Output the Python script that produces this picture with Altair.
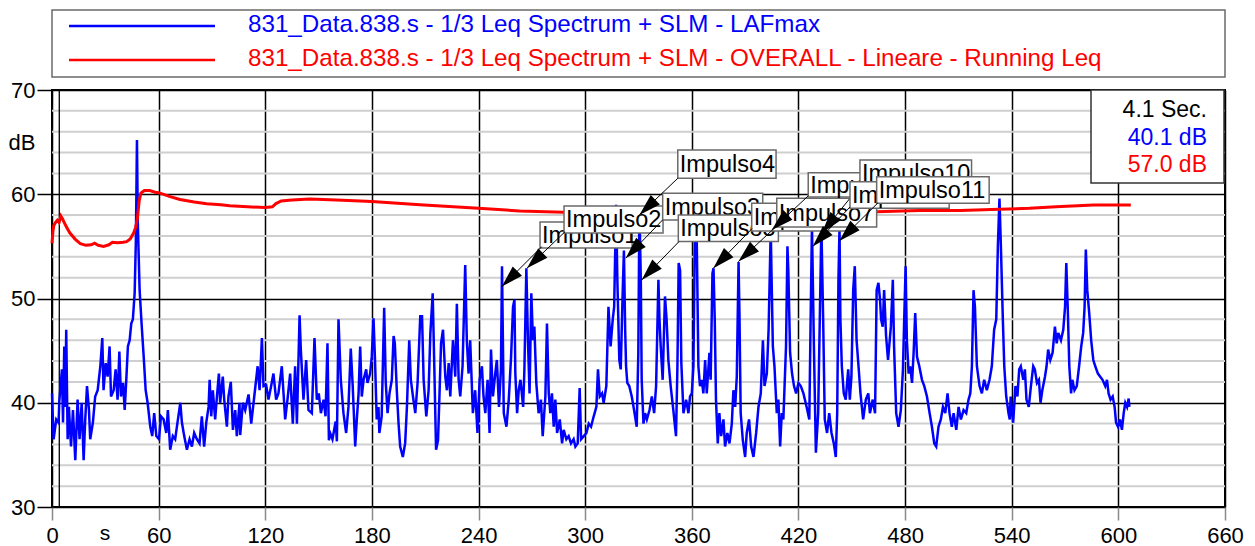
import math
import altair as alt
import pandas as pd

# ---------------- data ----------------
# LAFmax (blue), time [s] -> dB
laf_samples = [
    (0.0, 40.9), (0.9, 36.5), (2.4, 38.4), (3.7, 38.1), (4.1, 40.1), (5.6, 43.2), (6.2, 38.1), (6.9, 45.4),
    (7.5, 39.6), (8.0, 47.0), (8.8, 36.5), (9.5, 39.6), (10.7, 35.8), (11.8, 39.3), (13.1, 34.5), (14.4, 40.3),
    (15.5, 36.5), (16.7, 40.0), (17.8, 34.5), (18.7, 38.4), (19.7, 41.6), (20.8, 39.3), (21.5, 36.5), (23.0, 38.1),
    (24.3, 40.6), (25.7, 41.2), (27.2, 43.5), (28.3, 46.2), (29.0, 41.2), (30.2, 43.8), (31.3, 42.5), (32.4, 45.4),
    (33.2, 40.6), (34.7, 41.2), (35.8, 43.2), (36.9, 40.3), (37.9, 44.9), (38.8, 40.6), (40.0, 41.9), (40.9, 39.3),
    (41.8, 42.2), (42.7, 45.4), (43.7, 46.0), (44.6, 47.6), (45.5, 48.0), (46.5, 50.5), (47.2, 55.6), (47.8, 65.2),
    (48.3, 57.2), (49.3, 50.8), (50.4, 47.6), (51.6, 44.4), (52.7, 41.2), (53.8, 40.0), (55.3, 37.7), (56.4, 36.8),
    (57.5, 39.0), (58.7, 36.8), (60.2, 36.5), (61.3, 38.7), (62.8, 38.4), (64.3, 37.1), (65.2, 39.3), (66.5, 35.5),
    (68.0, 36.8), (69.3, 36.5), (70.6, 38.1), (72.2, 40.0), (73.1, 38.1), (74.4, 36.8), (75.9, 35.5), (77.4, 36.5),
    (78.7, 35.8), (80.0, 37.1), (81.5, 36.5), (83.0, 36.1), (84.3, 38.7), (85.6, 35.8), (86.8, 38.1), (88.1, 39.6),
    (88.7, 42.2), (89.6, 38.7), (90.5, 41.2), (91.8, 38.4), (92.8, 40.6), (93.9, 42.8), (94.6, 40.0), (96.1, 42.5),
    (96.9, 40.3), (98.4, 37.7), (99.3, 40.6), (100.6, 42.0), (101.8, 37.4), (103.1, 39.3), (104.0, 36.8), (105.5, 40.0),
    (105.9, 36.9), (107.4, 40.0), (108.7, 39.3), (110.6, 40.8), (112.1, 38.0), (113.8, 40.6), (115.7, 43.5), (116.8, 41.2),
    (118.1, 46.2), (119.0, 41.6), (120.5, 41.7), (121.8, 40.3), (123.3, 41.6), (124.6, 42.8), (126.1, 40.3), (127.4, 40.9),
    (129.3, 43.5), (131.2, 38.4), (132.5, 40.3), (134.0, 42.8), (135.5, 38.0), (136.8, 43.5), (137.8, 38.0), (139.3, 48.4),
    (140.0, 45.1), (141.5, 40.3), (143.0, 44.1), (144.3, 39.3), (146.2, 39.0), (147.7, 46.2), (149.0, 40.3), (150.1, 40.9),
    (151.3, 39.0), (152.8, 40.3), (153.9, 38.7), (155.0, 45.7), (155.8, 36.4),
    (156.5, 37.1), (157.8, 36.5), (159.6, 38.2), (160.3, 36.3), (161.2, 48.0), (162.5, 42.2), (164.0, 39.0), (165.5, 37.1),
    (166.8, 39.6), (168.1, 45.2), (169.2, 41.6), (170.6, 35.8), (171.5, 38.4), (172.5, 40.9), (173.4, 45.4), (174.3, 40.6),
    (175.3, 42.2), (176.8, 43.2), (177.5, 41.9), (179.0, 42.8), (179.9, 44.4), (180.9, 48.1), (181.8, 43.8), (182.7, 38.4),
    (183.7, 39.6), (184.2, 37.1), (185.5, 38.7), (186.9, 49.1), (187.8, 41.9), (188.8, 39.0), (189.9, 40.9), (191.2, 42.2),
    (192.2, 46.4), (192.9, 45.7), (194.0, 41.2), (195.0, 38.0), (195.9, 35.8), (197.4, 34.8), (198.7, 36.1), (199.7, 39.6),
    (201.0, 46.0), (201.9, 42.2), (203.1, 40.6), (204.4, 39.0), (205.7, 41.9), (207.2, 48.3), (208.2, 48.3), (209.1, 42.2),
    (210.6, 38.7), (211.9, 41.2), (212.9, 46.7), (214.2, 50.5), (215.1, 43.5), (216.1, 35.5), (217.2, 36.4), (218.1, 41.2),
    (218.9, 45.7), (220.0, 47.0), (221.3, 42.5), (222.2, 41.2), (223.2, 43.8), (224.1, 40.6), (225.6, 46.0), (226.9, 42.5),
    (227.8, 49.5), (228.8, 42.2), (229.7, 40.6), (231.0, 43.5), (232.5, 53.2), (233.4, 46.0), (234.4, 42.8), (235.3, 46.0),
    (236.8, 39.0), (238.1, 41.2), (239.4, 37.1), (240.6, 42.2), (241.9, 43.5), (242.8, 40.6), (243.8, 39.0), (245.1, 42.2),
    (246.2, 37.1), (247.0, 45.1), (248.1, 40.6), (249.4, 42.8), (250.3, 44.1), (251.5, 39.6), (252.6, 43.2), (253.2, 53.1),
    (254.2, 39.0), (255.7, 37.7), (257.0, 40.3), (258.3, 44.4), (259.4, 49.2), (260.2, 49.9), (260.7, 42.8), (261.7, 39.0),
    (262.6, 41.2), (263.6, 42.2), (265.1, 39.6), (265.8, 43.2), (266.9, 52.9), (267.8, 46.0), (268.7, 40.9), (269.7, 50.5),
    (270.6, 46.0), (271.4, 47.3), (272.5, 41.9), (273.8, 39.0), (275.1, 40.3), (276.1, 36.8), (277.6, 40.6), (278.5, 47.6),
    (279.5, 40.9), (280.4, 39.0), (281.3, 40.9), (282.3, 37.7), (283.2, 40.3), (284.2, 37.1), (285.7, 38.4), (287.0, 36.1),
    (287.9, 37.4), (289.4, 36.5), (290.7, 36.8), (292.0, 36.1), (293.5, 36.5), (294.5, 35.8), (295.8, 36.1), (296.9, 41.4),
    (297.7, 36.5), (299.2, 36.8), (300.7, 37.1), (302.0, 38.0), (303.3, 37.7), (304.8, 38.7), (306.3, 39.6), (307.2, 43.2),
    (308.2, 40.6), (309.5, 40.9), (310.4, 40.0), (311.9, 41.6),
    (313.1, 49.2), (314.3, 45.4), (315.5, 48.0), (316.3, 49.2), (317.4, 59.0), (318.1, 51.8), (319.2, 44.1), (320.0, 43.2),
    (321.0, 50.0), (321.8, 54.6), (322.5, 47.0), (323.0, 43.5), (323.7, 41.9), (324.8, 41.6), (326.2, 40.6), (327.5, 39.3),
    (329.0, 37.7), (329.9, 44.8), (330.5, 58.8), (331.3, 51.8), (331.8, 42.2), (332.8, 38.0), (333.7, 39.0), (334.7, 38.4),
    (336.2, 39.3), (337.5, 40.6), (338.8, 39.0), (339.9, 41.6), (341.2, 51.8), (341.8, 48.0), (342.5, 45.4), (343.6, 42.2),
    (344.9, 50.2), (345.8, 48.0), (346.8, 44.1), (348.1, 41.6), (349.6, 39.3), (351.1, 36.8), (351.9, 43.5), (352.6, 53.4),
    (353.4, 52.7), (354.1, 43.8), (355.3, 39.0), (356.8, 40.3), (358.1, 39.0), (359.0, 40.6), (360.0, 40.9), (360.9, 43.5),
    (361.8, 57.5), (362.8, 55.3), (363.7, 43.5), (364.6, 41.6), (365.6, 42.2), (366.5, 40.9), (367.5, 44.1), (368.4, 40.9),
    (369.9, 44.8), (370.6, 42.2), (371.6, 52.4), (372.2, 52.9), (372.9, 48.0), (373.6, 40.3), (374.6, 36.1), (375.5, 39.0),
    (376.5, 36.8), (377.8, 38.4), (378.7, 35.8), (380.0, 37.1), (381.2, 36.1), (382.5, 38.0), (383.4, 41.2), (384.4, 39.6),
    (385.3, 42.5), (386.3, 53.5), (386.8, 48.6), (387.5, 39.0), (388.7, 36.4), (390.0, 34.8), (390.9, 37.1), (392.2, 38.4),
    (393.4, 35.8), (394.7, 34.8), (396.2, 37.1), (397.5, 39.6), (398.8, 40.9), (400.0, 46.0), (400.9, 41.6), (402.2, 42.8),
    (403.2, 47.0), (404.4, 56.6), (404.9, 51.8), (405.6, 45.4), (406.5, 43.5), (407.8, 39.0), (408.7, 40.3), (409.7, 35.8),
    (410.6, 39.0), (411.5, 38.4), (413.0, 45.4), (413.8, 55.0), (414.3, 52.7), (415.3, 44.8), (416.4, 42.8), (417.5, 41.6),
    (418.7, 40.9), (420.0, 41.9), (421.3, 41.6), (422.8, 40.9), (424.6, 39.6), (426.1, 38.4), (426.9, 48.6), (427.6, 56.9),
    (428.7, 45.4), (429.8, 35.2), (431.1, 39.0), (432.0, 48.0), (432.9, 57.0), (433.9, 48.0), (434.8, 38.4), (436.1, 37.1),
    (437.3, 39.0), (438.6, 37.1), (439.9, 36.1), (441.0, 34.8), (441.8, 39.0), (442.5, 51.8), (443.1, 56.8), (443.6, 48.0),
    (444.4, 43.5), (445.5, 40.9), (446.6, 40.3), (448.0, 43.2), (448.9, 40.3), (449.8, 42.5), (450.8, 50.8), (451.7, 53.1),
    (452.7, 46.0), (453.8, 43.5), (454.9, 40.9), (456.4, 38.4), (457.9, 40.3), (459.3, 40.9), (460.2, 39.0),
    (461.8, 40.3), (463.1, 39.0), (464.0, 50.8), (465.0, 51.5), (465.9, 49.9), (466.5, 48.0), (467.4, 47.3), (468.2, 50.8),
    (469.3, 46.4), (470.4, 44.1), (472.0, 47.3), (473.1, 51.8), (473.8, 45.4), (475.0, 39.0), (476.3, 37.7), (477.6, 39.3),
    (478.8, 43.2), (479.5, 48.0), (480.3, 53.1), (481.0, 46.0), (482.0, 42.8), (482.9, 43.5), (483.9, 41.9), (484.8, 44.8),
    (485.7, 48.6), (486.7, 44.4), (488.0, 43.5), (489.5, 42.2), (490.8, 41.6), (492.3, 40.6), (493.8, 39.0), (495.1, 37.7),
    (496.4, 36.1), (497.5, 35.8), (498.8, 37.7), (500.1, 38.4), (501.3, 39.6), (502.6, 39.0), (503.9, 40.9), (505.0, 39.0),
    (506.3, 37.7), (507.3, 39.0), (508.8, 37.4), (510.1, 39.6), (511.4, 38.4), (512.9, 39.3), (514.4, 39.0), (515.7, 40.3),
    (516.7, 40.9), (517.6, 43.5), (518.5, 50.8), (519.3, 49.2), (520.4, 43.5), (521.9, 41.6), (523.2, 40.9), (524.5, 42.2),
    (526.0, 41.2), (527.5, 42.2), (528.8, 43.5), (530.1, 47.0), (531.3, 48.0), (532.2, 55.0), (533.1, 59.6), (533.9, 55.0),
    (535.0, 48.0), (535.8, 43.5), (536.9, 40.6), (538.2, 39.0), (538.9, 38.4), (539.4, 40.6), (540.8, 38.1), (542.1, 41.6),
    (543.2, 40.6), (544.2, 43.2),
    (545.1, 43.5), (546.5, 42.2), (547.4, 43.2), (548.3, 40.3), (549.6, 39.6), (550.8, 41.6), (552.1, 43.5), (553.0, 43.2),
    (554.2, 41.9), (555.3, 42.2), (556.2, 40.0), (557.2, 41.2), (558.7, 42.5), (559.6, 43.5), (560.5, 45.1), (561.7, 44.1),
    (563.0, 44.8), (564.3, 47.3), (565.3, 45.7), (566.2, 46.7), (567.7, 46.0), (569.0, 47.0), (570.0, 49.2), (570.7, 53.4),
    (571.5, 49.2), (572.4, 43.5), (573.4, 40.9), (574.1, 42.2), (575.3, 41.2), (576.6, 41.6), (577.9, 43.5), (579.1, 45.4),
    (580.2, 46.7), (581.0, 49.2), (581.7, 54.7), (582.5, 50.8), (583.6, 48.6), (584.7, 46.0), (585.9, 44.1), (587.0, 43.5),
    (588.5, 42.8), (589.8, 42.5), (591.1, 42.2), (592.6, 41.6), (593.6, 42.2), (594.5, 40.9), (595.6, 40.3), (596.8, 40.6),
    (597.9, 39.6), (598.7, 38.1), (599.8, 37.7), (600.9, 38.4), (602.0, 37.4), (603.0, 39.0), (603.9, 40.0), (604.9, 39.6),
    (605.8, 40.4), (606.2, 39.6),
]
laf_t = [p[0] for p in laf_samples]
laf_db = [p[1] for p in laf_samples]

# OVERALL running Leq (red)
leq_t = [0, 0.5, 1, 2, 3, 4, 5, 6, 8, 10, 13, 16, 19, 22, 24, 26, 29, 32, 34, 37, 40, 42, 44, 46, 47, 48, 49, 50,
         52, 55, 58, 60, 66, 72, 80, 87, 95, 100, 110, 120, 124, 126, 129, 135, 145, 160, 180, 207, 240, 263, 288,
         300, 330, 360, 400, 440, 464, 488, 511, 533, 550, 565, 586, 600, 607]
leq_db = [55.3, 56.4, 57.0, 57.3, 57.5, 57.3, 57.9, 57.6, 56.9, 56.3, 55.7, 55.25, 55.1, 55.15, 55.3, 55.1, 55.0,
          55.15, 55.4, 55.35, 55.4, 55.45, 55.7, 56.3, 56.8, 57.6, 59.3, 60.1, 60.35, 60.35, 60.2, 60.15, 59.8,
          59.5, 59.25, 59.1, 59.0, 58.9, 58.8, 58.72, 58.8, 59.1, 59.35, 59.45, 59.55, 59.45, 59.3, 59.0, 58.65,
          58.4, 58.27, 58.2, 58.15, 58.2, 58.2, 58.25, 58.33, 58.45, 58.45, 58.55, 58.65, 58.8, 58.96, 58.96, 58.96]

series_names = ["831_Data.838.s - 1/3 Leq Spectrum + SLM - LAFmax",
                "831_Data.838.s - 1/3 Leq Spectrum + SLM - OVERALL - Lineare - Running Leq"]
series_colors = ["#0000ff", "#ff0000"]

x_ticks = [0, 60, 120, 180, 240, 300, 360, 420, 480, 540, 600, 660]
y_ticks = [30, 40, 50, 60, 70]
minor_db = [32, 34, 36, 38, 42, 44, 46, 48, 52, 54, 56, 58, 62, 64, 66, 68]
x_title, y_title = "s", "dB"

cursor_t = [4.1]
cursor_lines = ["4.1 Sec.", "40.1 dB", "57.0 dB"]

# annotations (drawing order), box edges and arrow ends in data units
ann_label = ["Impulso1", "Impulso2", "Impulso3", "Impulso4", "Impulso5", "Impulso6",
             "Impulso7", "Impulso8", "Impulso10", "Impulso9", "Impulso11"]
ann_t0 = [274.6, 288.1, 343.6, 352.1, 352.4, 393.7, 407.8, 425.5, 454.6, 449.0, 464.0]
ann_t1 = [326.4, 343.8, 399.9, 407.4, 408.7, 449.4, 464.0, 481.3, 517.4, 504.8, 527.3]
ann_top = [57.34, 58.88, 60.10, 64.25, 58.02, 59.14, 59.62, 62.07, 63.29, 61.21, 61.69]
ann_bot = [54.85, 56.29, 57.54, 61.53, 55.46, 56.48, 56.86, 59.74, 60.73, 58.66, 59.14]
ann_from_t = [275.6, 288.7, 343.6, 352.1, 352.8, 393.9, 407.8, 425.5, 454.6, 449.0, 464.7]
ann_from_v = [54.98, 56.41, 57.54, 61.53, 55.46, 56.70, 56.96, 59.84, 60.80, 58.78, 59.17]
ann_to_t = [253.1, 267.2, 322.8, 330.5, 331.8, 372.1, 386.2, 405.0, 433.1, 428.0, 443.0]
ann_to_v = [51.14, 52.90, 53.86, 58.02, 51.78, 52.90, 53.54, 56.58, 56.26, 54.98, 55.52]

# ---------------- chart ----------------
W, H = 1173, 417
FONT = "Liberation Sans"
X_DOM, Y_DOM = [0, 660], [30, 70]

xs = alt.Scale(domain=X_DOM, nice=False, zero=False)
ys = alt.Scale(domain=Y_DOM, nice=False, zero=False)

x_axis = alt.Axis(values=x_ticks, grid=True, gridColor="black", gridWidth=1.5, domain=False,
                  ticks=True, tickColor="#8a8a8a", tickWidth=1.5, tickSize=13, labelPadding=5,
                  labelFont=FONT, labelFontSize=22, labelColor="black", labelFlush=False, title=None)
y_axis = alt.Axis(values=y_ticks, grid=True, gridColor="black", gridWidth=1.5, domain=False,
                  ticks=True, tickColor="black", tickWidth=1.5, tickSize=15, labelPadding=2,
                  labelFont=FONT, labelFontSize=22, labelColor="black", labelFlush=False, title=None)


def X(f):
    return alt.X(f, type="quantitative", scale=xs, axis=x_axis)


def Y(f):
    return alt.Y(f, type="quantitative", scale=ys, axis=y_axis)


laf = pd.DataFrame({"t": laf_t, "db": laf_db})
leq = pd.DataFrame({"t": leq_t, "db": leq_db})

minor = alt.Chart(pd.DataFrame({"db": minor_db})).mark_rule(
    color="#cfcfcf", strokeWidth=2).encode(y=Y("db"))

cursor = alt.Chart(pd.DataFrame({"t": cursor_t})).mark_rule(
    color="black", strokeWidth=1.3).encode(x=X("t"))

blue = alt.Chart(laf).mark_line(color=series_colors[0], strokeWidth=2.5).encode(
    x=X("t"), y=Y("db"))
red = alt.Chart(leq).mark_line(color=series_colors[1], strokeWidth=3).encode(
    x=X("t"), y=Y("db"))

layers = [minor, cursor, blue, red]

# axis unit titles placed like the reference
layers.append(alt.Chart(pd.DataFrame({"txt": [x_title]})).mark_text(
    align="center", baseline="middle", font=FONT, fontSize=21, color="black").encode(
    x=alt.value(53), y=alt.value(H + 27), text="txt:N"))
layers.append(alt.Chart(pd.DataFrame({"txt": [y_title]})).mark_text(
    align="center", baseline="alphabetic", font=FONT, fontSize=22, color="black").encode(
    x=alt.value(-30), y=alt.value(60), text="txt:N"))

# annotations
sx, sy = W / (X_DOM[1] - X_DOM[0]), H / (Y_DOM[1] - Y_DOM[0])
ann = pd.DataFrame({"label": ann_label, "t0": ann_t0, "t1": ann_t1, "top": ann_top, "bot": ann_bot,
                    "ft": ann_from_t, "fv": ann_from_v, "tt": ann_to_t, "tv": ann_to_v})
ann["ymid"] = (ann["top"] + ann["bot"]) / 2
ann["ang"] = [
    math.degrees(math.atan2((r.tt - r.ft) * sx, (r.tv - r.fv) * sy)) % 360
    for r in ann.itertuples()
]
arrow_shape = "M0,0L-0.3,1L0.3,1Z"

base_ann = alt.Chart(ann)
for lab in ann_label:
    f = alt.datum.label == lab
    layers.append(base_ann.transform_filter(f).mark_rect(
        fill="white", stroke="#6a6a6a", strokeWidth=1.5).encode(
        x=X("t0"), x2="t1", y=Y("top"), y2="bot"))
    layers.append(base_ann.transform_filter(f).mark_text(
        align="left", baseline="middle", dx=2, dy=1, font=FONT, fontSize=23.5, color="black").encode(
        x=X("t0"), y=Y("ymid"), text="label:N"))
    layers.append(base_ann.transform_filter(f).mark_rule(color="black", strokeWidth=1).encode(
        x=X("ft"), y=Y("fv"), x2="tt", y2="tv"))
    layers.append(base_ann.transform_filter(f).mark_point(
        shape=arrow_shape, filled=True, size=1936, color="black", opacity=1, strokeWidth=0).encode(
        x=X("tt"), y=Y("tv"), angle=alt.Angle("ang:Q", scale=None)))

# cursor readout box (top right)
one = pd.DataFrame({"a": [0]})
layers.append(alt.Chart(one).mark_rect(fill="white", stroke="#333333", strokeWidth=1.5).encode(
    x=alt.value(1039), x2=alt.value(1172), y=alt.value(0), y2=alt.value(93)))
info_colors = ["black", series_colors[0], series_colors[1]]
info_baselines = [27, 55, 82]
for txt, col, yb in zip(cursor_lines, info_colors, info_baselines):
    layers.append(alt.Chart(pd.DataFrame({"txt": [txt]})).mark_text(
        align="right", baseline="alphabetic", font=FONT, fontSize=23, color=col).encode(
        x=alt.value(1155), y=alt.value(yb), text="txt:N"))

# legend box above the plot
layers.append(alt.Chart(one).mark_rect(fill="white", stroke="#6a6a6a", strokeWidth=1.5).encode(
    x=alt.value(0), x2=alt.value(W), y=alt.value(-80), y2=alt.value(-13)))
leg_line_y = [-64, -30]
leg_text_y = [-58, -24]
for name, col, ly, ty in zip(series_names, series_colors, leg_line_y, leg_text_y):
    layers.append(alt.Chart(one).mark_rule(color=col, strokeWidth=2.7).encode(
        x=alt.value(17), x2=alt.value(163), y=alt.value(ly)))
    layers.append(alt.Chart(pd.DataFrame({"txt": [name]})).mark_text(
        align="left", baseline="alphabetic", font=FONT, fontSize=24.2, color=col).encode(
        x=alt.value(196), y=alt.value(ty), text="txt:N"))

chart = alt.layer(*layers).properties(
    width=W, height=H,
    autosize=alt.AutoSizeParams(type="none"),
    padding={"left": 52, "top": 90, "right": 30, "bottom": 39},
    background="white",
).configure_view(stroke="black", strokeWidth=2)

chart.save("out.html", embed_options={"renderer": "svg", "actions": False})
